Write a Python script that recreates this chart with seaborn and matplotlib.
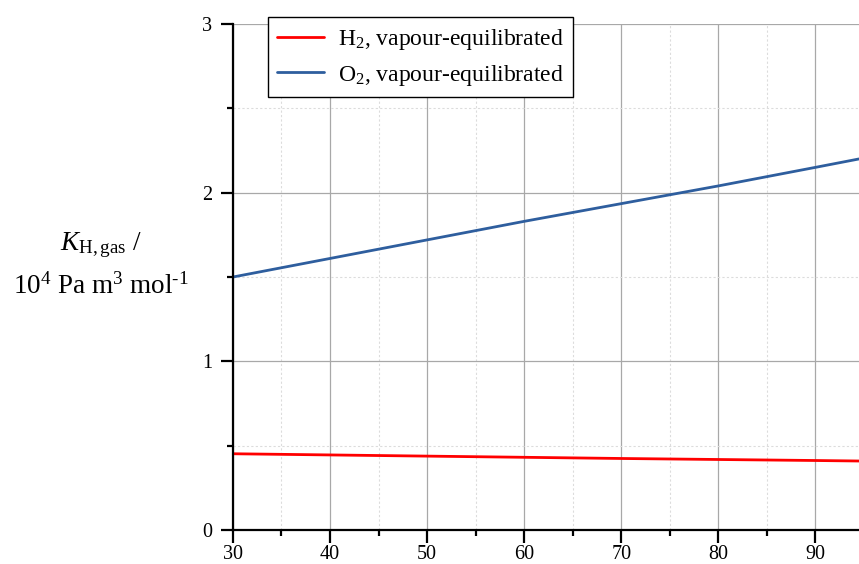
import matplotlib
matplotlib.use("Agg")
import matplotlib.pyplot as plt
import seaborn as sns
import pandas as pd
from matplotlib.ticker import MultipleLocator

temps = [30, 40, 50, 60, 70, 80, 90, 94.5]
h2_vals = [0.452, 0.445, 0.438, 0.431, 0.424, 0.418, 0.412, 0.409]
o2_vals = [1.50, 1.61, 1.72, 1.83, 1.935, 2.04, 2.15, 2.20]
series_names = ["H$_2$, vapour-equilibrated", "O$_2$, vapour-equilibrated"]
colors = ["#ff0000", "#2e5e9e"]

df = pd.DataFrame({
    "T": temps + temps,
    "K": h2_vals + o2_vals,
    "series": [series_names[0]] * len(temps) + [series_names[1]] * len(temps),
})

sns.set_style("white")
plt.rcParams["font.family"] = ["Liberation Serif", "DejaVu Serif"]
plt.rcParams["mathtext.fontset"] = "custom"
plt.rcParams["mathtext.rm"] = "Liberation Serif"
plt.rcParams["mathtext.it"] = "Liberation Serif:italic"
plt.rcParams["text.color"] = "black"
plt.rcParams["axes.labelcolor"] = "black"

fig = plt.figure(figsize=(8.59, 5.64), dpi=100)
ax = fig.add_axes([0.2712, 0.0603, 0.7288, 0.8971])

sns.lineplot(data=df, x="T", y="K", hue="series", palette=colors, ax=ax,
             linewidth=2, legend=True)

ax.set_xlim(30, 94.5)
ax.set_ylim(0, 3)
ax.xaxis.set_major_locator(MultipleLocator(10))
ax.xaxis.set_minor_locator(MultipleLocator(5))
ax.yaxis.set_major_locator(MultipleLocator(1))
ax.yaxis.set_minor_locator(MultipleLocator(0.5))

ax.grid(which="major", color="#a8a8a8", linestyle="-", linewidth=0.9)
ax.grid(which="minor", color="#dcdcdc", linestyle=(0, (2, 2)), linewidth=0.8)
ax.set_axisbelow(True)

for s in ["top", "right"]:
    ax.spines[s].set_visible(False)
for s in ["left", "bottom"]:
    ax.spines[s].set_color("black")
    ax.spines[s].set_linewidth(1.6)

ax.tick_params(which="major", direction="out", length=9, width=1.6, labelsize=14.5,
               colors="black", pad=6)
ax.tick_params(which="minor", direction="out", length=4.5, width=1.6, colors="black")
ax.tick_params(axis="x", which="both", bottom=True, pad=2)
ax.tick_params(axis="y", which="both", left=True)

ax.set_xlabel("")
ax.set_ylabel("")

leg = ax.legend(loc="upper left", bbox_to_anchor=(0.056, 1.013), fontsize=17,
                frameon=True, fancybox=False, edgecolor="black", framealpha=1,
                handlelength=1.95, handletextpad=0.6, borderpad=0.4, labelspacing=0.45,
                borderaxespad=0)
leg.get_frame().set_linewidth(1.0)
for t in leg.get_texts():
    t.set_color("black")

fig.text(0.117, 0.566, r"$\mathit{K}_{\mathrm{H,gas}}$ /", ha="center", va="center",
         fontsize=19.5, color="black")
fig.text(0.117, 0.492, r"10$^{4}$ Pa m$^{3}$ mol$^{\text{-}1}$", ha="center", va="center",
         fontsize=19.5, color="black")

fig.savefig("out.png", dpi=100)
